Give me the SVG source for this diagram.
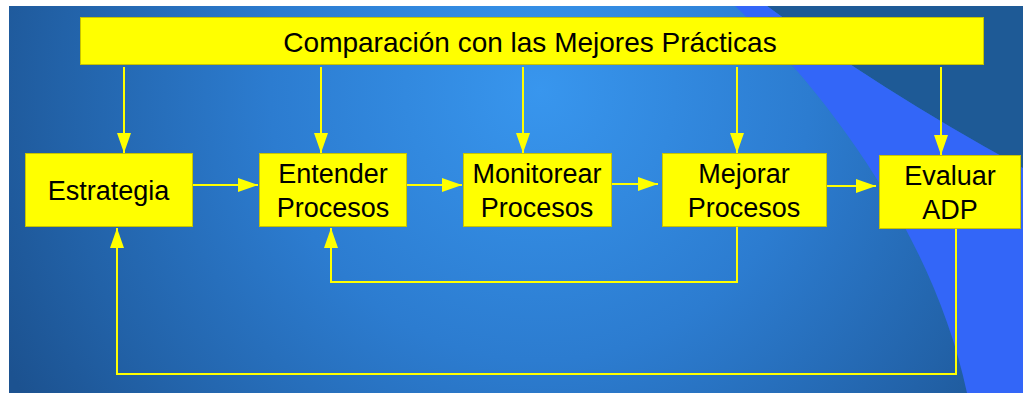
<svg xmlns="http://www.w3.org/2000/svg" width="1023" height="393" viewBox="0 0 1023 393">
  <defs>
    <radialGradient id="bg" gradientUnits="userSpaceOnUse" cx="540" cy="90" r="600">
      <stop offset="0" stop-color="#3896ee"/>
      <stop offset="0.45" stop-color="#2c7cd0"/>
      <stop offset="0.8" stop-color="#2262a8"/>
      <stop offset="1" stop-color="#1c5290"/>
    </radialGradient>
    <marker id="ah" viewBox="0 0 20 14" refX="20" refY="7" markerWidth="20" markerHeight="14" markerUnits="userSpaceOnUse" orient="auto">
      <path d="M0,0 L20,7 L0,14 z" fill="#ffff00"/>
    </marker>
    <style>
      .box { fill: #ffff00; stroke: #c8c400; stroke-width: 1; }
      .lbl { font-family: "Liberation Sans", Arial, Helvetica, sans-serif; font-size: 27px; fill: #000000; text-anchor: middle; }
      .title { font-size: 28px; }
      .conn { fill: none; stroke: #ffff00; stroke-width: 2; }
    </style>
  </defs>

  <rect x="0" y="0" width="1023" height="393" fill="#ffffff"/>
  <rect x="9" y="6" width="1014" height="387" fill="url(#bg)"/>
  <path d="M767,6 Q880,90 1023,168 L1023,6 z" fill="#1e5a96"/>
  <path d="M735,6 L767,6 Q880,90 1023,168 L1023,393 L967,393 C935,240 830,95 735,6 z" fill="#3366f8"/>

  <g id="connectors">
    <path class="conn" d="M124,67 V153" marker-end="url(#ah)"/>
    <path class="conn" d="M321,67 V153" marker-end="url(#ah)"/>
    <path class="conn" d="M523,67 V153" marker-end="url(#ah)"/>
    <path class="conn" d="M737,67 V153" marker-end="url(#ah)"/>
    <path class="conn" d="M941,67 V155" marker-end="url(#ah)"/>
    <path class="conn" d="M192,185 H258" marker-end="url(#ah)"/>
    <path class="conn" d="M406,185 H462" marker-end="url(#ah)"/>
    <path class="conn" d="M611,184 H658" marker-end="url(#ah)"/>
    <path class="conn" d="M826,186 H876" marker-end="url(#ah)"/>
    <path class="conn" d="M737,227 V282 H331 V228" marker-end="url(#ah)"/>
    <path class="conn" d="M956,229 V374 H117 V228" marker-end="url(#ah)"/>
  </g>

  <g id="top">
    <rect class="box" x="80.5" y="17.5" width="903" height="47"/>
    <text class="lbl title" x="530" y="52">Comparación con las Mejores Prácticas</text>
  </g>
  <g id="estrategia">
    <rect class="box" x="25.5" y="153.5" width="167" height="73"/>
    <text class="lbl" x="108.5" y="200">Estrategia</text>
  </g>
  <g id="entender">
    <rect class="box" x="259.5" y="153.5" width="147" height="73"/>
    <text class="lbl" x="333" y="183">Entender</text>
    <text class="lbl" x="333" y="217">Procesos</text>
  </g>
  <g id="monitorear">
    <rect class="box" x="463.5" y="153.5" width="148" height="73"/>
    <text class="lbl" x="537" y="183">Monitorear</text>
    <text class="lbl" x="537" y="217">Procesos</text>
  </g>
  <g id="mejorar">
    <rect class="box" x="662.5" y="153.5" width="164" height="73"/>
    <text class="lbl" x="744" y="183">Mejorar</text>
    <text class="lbl" x="744" y="217">Procesos</text>
  </g>
  <g id="evaluar">
    <rect class="box" x="879.5" y="155.5" width="141" height="73"/>
    <text class="lbl" x="950" y="185">Evaluar</text>
    <text class="lbl" x="950" y="219">ADP</text>
  </g>
</svg>
